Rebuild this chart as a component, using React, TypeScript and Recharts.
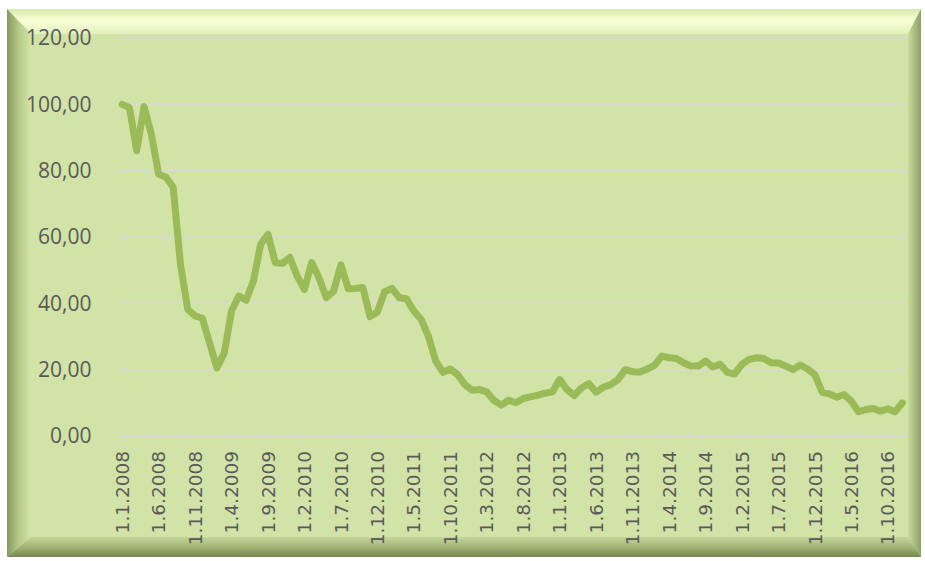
import React from "react";
import { LineChart, Line, XAxis, YAxis, CartesianGrid } from "recharts";

const years = [2008, 2009, 2010, 2011, 2012, 2013, 2014, 2015, 2016];
const months = [1, 2, 3, 4, 5, 6, 7, 8, 9, 10, 11, 12];

const values2008 = [100, 99, 86, 99.3, 91, 79, 78, 75, 51.8, 38.2, 36.2, 35.5];
const values2009 = [28, 20.5, 25, 37.7, 42.2, 40.9, 46.7, 57.8, 60.8, 52.3, 52, 53.8];
const values2010 = [48.2, 44.2, 52.3, 47.7, 41.7, 43.7, 51.6, 44.4, 44.5, 44.8, 36, 37.4];
const values2011 = [43.5, 44.5, 41.7, 41.4, 37.7, 35.2, 30.1, 22.6, 19.2, 20.2, 18.5, 15.5];
const values2012 = [13.8, 14, 13.3, 10.7, 9.3, 10.8, 10, 11.3, 11.8, 12.3, 12.9, 13.3];
const values2013 = [17, 14, 12.2, 14.5, 15.8, 13.2, 14.7, 15.5, 17, 20, 19.4, 19.3];
const values2014 = [20.2, 21.3, 24.1, 23.6, 23.4, 22.1, 21.1, 21.1, 22.6, 20.8, 21.6, 19.2];
const values2015 = [18.7, 21.6, 23.1, 23.6, 23.4, 22.1, 22, 21.1, 20, 21.4, 20.2, 18.5];
const values2016 = [13.2, 12.7, 11.7, 12.5, 10.5, 7.3, 8, 8.3, 7.5, 8.2, 7.3, 10];

const yTicks = [0, 20, 40, 60, 80, 100, 120];

const categories = years.flatMap((y) => months.map((m) => `1.${m}.${y}`));
const seriesValues = [
  ...values2008,
  ...values2009,
  ...values2010,
  ...values2011,
  ...values2012,
  ...values2013,
  ...values2014,
  ...values2015,
  ...values2016,
];
const data = categories.map((label, i) => ({ label, value: seriesValues[i] }));

const HALF_BAND = 3.645;

const XTick = (props: any) => {
  const { x, y, payload } = props;
  return (
    <g>
      <line
        x1={x - HALF_BAND}
        x2={x - HALF_BAND}
        y1={y - 15}
        y2={y - 10}
        stroke="#d9d9d9"
        strokeWidth={1.5}
      />
      <g transform={`translate(${x},${y})`}>
        <text
          transform="rotate(-90)"
          textAnchor="end"
          dy="0.36em"
          fill="#595959"
          fontSize={18.5}
          fontFamily="'DejaVu Sans', sans-serif"
        >
          {payload.value}
        </text>
      </g>
    </g>
  );
};

const Frame = () => (
  <svg width={925} height={561} style={{ position: "absolute", left: 0, top: 0 }}>
    <defs>
      <linearGradient id="gTop" x1="0" y1="0" x2="0" y2="1">
        <stop offset="0" stopColor="#d9e8ad" />
        <stop offset="0.45" stopColor="#fbffd8" />
        <stop offset="1" stopColor="#e2efbb" />
      </linearGradient>
      <linearGradient id="gLeft" x1="0" y1="0" x2="1" y2="0">
        <stop offset="0" stopColor="#869960" />
        <stop offset="0.5" stopColor="#b6ca89" />
        <stop offset="1" stopColor="#d3e5a8" />
      </linearGradient>
      <linearGradient id="gRight" x1="1" y1="0" x2="0" y2="0">
        <stop offset="0" stopColor="#8d9f66" />
        <stop offset="0.5" stopColor="#aabd7f" />
        <stop offset="1" stopColor="#c9dc9c" />
      </linearGradient>
      <linearGradient id="gBottom" x1="0" y1="1" x2="0" y2="0">
        <stop offset="0" stopColor="#76874f" />
        <stop offset="0.5" stopColor="#a2b577" />
        <stop offset="1" stopColor="#c4d697" />
      </linearGradient>
    </defs>
    <rect x={7} y={9} width={914} height={548} fill="#d1e3a6" />
    <polygon points="7,9 921,9 908,34 31,34" fill="url(#gTop)" />
    <polygon points="7,9 31,34 31,537 7,557" fill="url(#gLeft)" />
    <polygon points="921,9 921,557 908,537 908,34" fill="url(#gRight)" />
    <polygon points="7,557 31,537 908,537 921,557" fill="url(#gBottom)" />
    <rect x={31} y={34} width={877} height={503} fill="#d1e3a6" />
  </svg>
);

export default function App() {
  return (
    <div style={{ position: "absolute", left: 0, top: 0, width: 925, height: 561, background: "#ffffff" }}>
      <Frame />
      <div style={{ position: "absolute", left: 0, top: 0 }}>
        <LineChart
          width={925}
          height={561}
          data={data}
          margin={{ top: 38, right: 19, left: 0, bottom: 0 }}
        >
          <CartesianGrid vertical={false} stroke="#d9d9d9" strokeWidth={1.5} />
          <XAxis
            dataKey="label"
            interval={4}
            height={125}
            padding={{ left: HALF_BAND, right: HALF_BAND }}
            axisLine={{ stroke: "#d9d9d9", strokeWidth: 1.5 }}
            tickLine={false}
            tickSize={5}
            tickMargin={10}
            tick={<XTick />}
          />
          <YAxis
            width={118.5}
            domain={[0, 120]}
            ticks={yTicks}
            interval={0}
            axisLine={false}
            tickLine={false}
            tickSize={0}
            tickMargin={27}
            tickFormatter={(v: number) => v.toFixed(2).replace(".", ",")}
            tick={{ fill: "#595959", fontSize: 21, fontFamily: "'Open Sans', sans-serif" }}
          />
          <Line
            type="linear"
            dataKey="value"
            stroke="#9bbb59"
            strokeWidth={7}
            dot={false}
            strokeLinejoin="round"
            strokeLinecap="round"
            isAnimationActive={false}
          />
        </LineChart>
      </div>
    </div>
  );
}
